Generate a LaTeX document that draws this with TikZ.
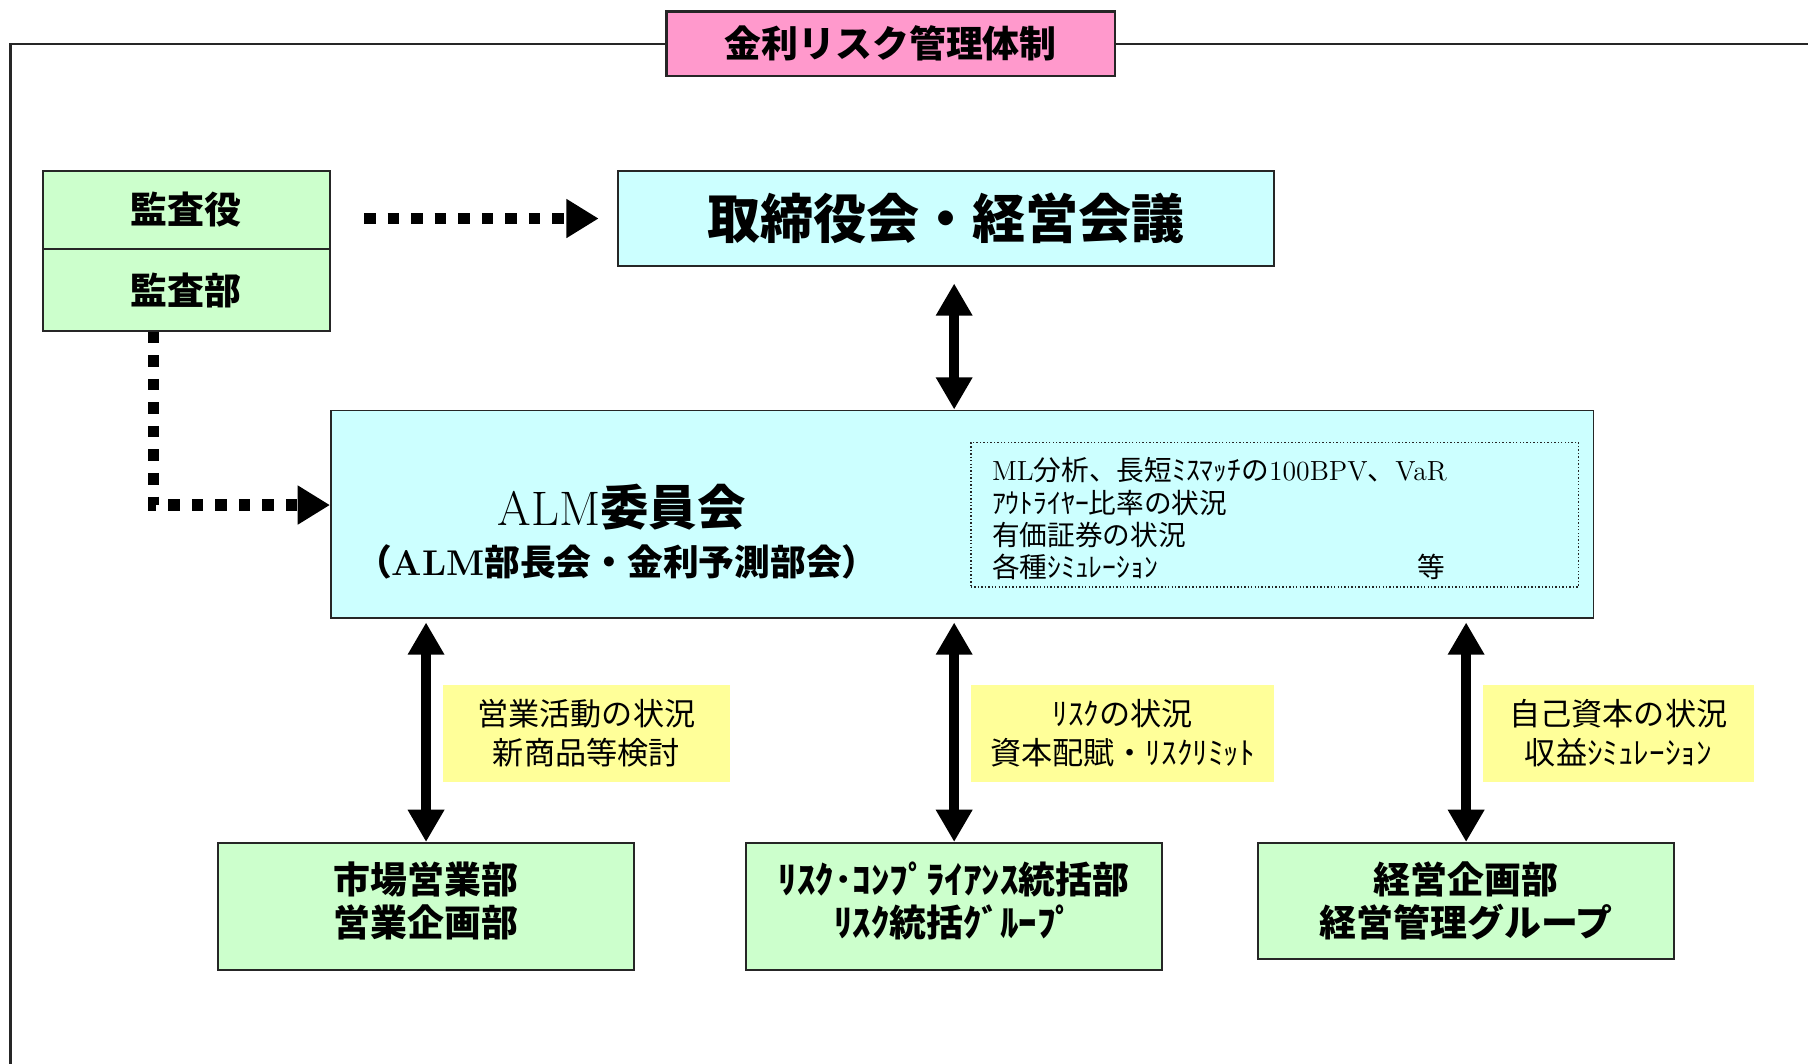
\documentclass[tikz,border=0pt]{standalone}
\usepackage{fontspec}
\newfontfamily\jp{Noto Sans CJK JP}
\usetikzlibrary{arrows.meta}
\definecolor{cyanbox}{HTML}{CCFFFF}
\definecolor{greenbox}{HTML}{CCFFCC}
\definecolor{pinkbox}{HTML}{FF99CC}
\definecolor{yellowbox}{HTML}{FFFF99}
\newcommand{\lowstrut}{\rule[-6pt]{0pt}{0pt}}
\begin{document}
\begin{tikzpicture}[x=0.5pt,y=-0.5pt,
  box/.style={draw=black!85, line width=0.8pt, inner sep=0pt, align=center},
  gbox/.style={box, fill=greenbox, font=\jp\bfseries\fontsize{16}{18.5}\selectfont},
  ybox/.style={fill=yellowbox, minimum height=42pt, inner sep=0pt, align=center, font=\jp\fontsize{13.5}{17}\selectfont},
  frame/.style={line width=1pt, draw=black!85},
  dbl/.style={line width=4.2pt, {Triangle[width=15pt,length=14pt]}-{Triangle[width=15pt,length=14pt]}},
  dotarr/.style={line width=5pt, dash pattern=on 5pt off 5.2pt, -{Triangle[width=16pt,length=14pt]}}
]
\useasboundingbox (0,0) rectangle (1568,922);

% title and frame
\node[box, fill=pinkbox, line width=1.2pt, minimum width=194.5pt, minimum height=28pt,
      font=\jp\bfseries\fontsize{16}{18}\selectfont] (title) at (772.5,38) {金利リスク管理体制};
\draw[frame] (title.west) -| (9,930);
\draw[frame] (title.east) -- (1575,38);

% audit boxes
\node[gbox, minimum width=124.5pt, minimum height=34pt] (aud1) at (161.5,182) {監査役};
\node[gbox, minimum width=124.5pt, minimum height=35.5pt] (aud2) at (161.5,251.5) {監査部};

% board
\node[box, fill=cyanbox, minimum width=284.5pt, minimum height=41.5pt,
      font=\jp\bfseries\fontsize{23}{26}\selectfont] (board) at (820.5,189.5) {取締役会・経営会議};

% ALM committee
\node[box, fill=cyanbox, minimum width=547.5pt, minimum height=90pt] (alm) at (834.5,446) {};
\node[font=\fontsize{21}{24}\selectfont, inner sep=0pt] (almt) at (539,440) {ALM{\jp\bfseries 委員会}};
\node[font=\bfseries\fontsize{15.5}{18}\selectfont, inner sep=0pt] (almsub) at (535,487) {{\jp （}ALM{\jp 部長会・金利予測部会）}};

\node[draw=black!85, line width=0.6pt, dash pattern=on 0.6pt off 0.9pt, minimum width=263.5pt,
      minimum height=62.5pt, inner sep=0pt] (inner) at (1105.5,446.5) {};
\node[anchor=west, align=left, inner sep=0pt, font=\jp\fontsize{12}{14}\selectfont] (innert) at (860,450)
  {{\rmfamily ML}分析、長短ﾐｽﾏｯﾁの{\rmfamily 100BPV}、{\rmfamily VaR}\\
   ｱｳﾄﾗｲﾔｰ比率の状況\\
   有価証券の状況\\
   各種ｼﾐｭﾚｰｼｮﾝ};
\node[inner sep=0pt, font=\jp\fontsize{12}{14}\selectfont] (etc) at (1241,492) {等};

% yellow notes
\node[ybox, minimum width=124.5pt] (y1) at (508.5,636) {営業活動の状況\\新商品等検討};
\node[ybox, minimum width=131.5pt] (y2) at (973.5,636) {ﾘｽｸの状況\\資本配賦・ﾘｽｸﾘﾐｯﾄ};
\node[ybox, minimum width=117.5pt] (y3) at (1403.5,636) {自己資本の状況\\収益ｼﾐｭﾚｰｼｮﾝ};

% bottom boxes
\node[gbox, minimum width=180.5pt, minimum height=55pt] (b1) at (369.5,786) {市場営業部\\営業企画部\lowstrut};
\node[gbox, minimum width=180.5pt, minimum height=55pt] (b2) at (827.5,786) {ﾘｽｸ･ｺﾝﾌﾟﾗｲｱﾝｽ統括部\\ﾘｽｸ統括ｸﾞﾙｰﾌﾟ\lowstrut};
\node[gbox, minimum width=180.5pt, minimum height=50.5pt] (b3) at (1271.5,781.5) {経営企画部\\経営管理グループ};

% connectors
\draw[dbl, shorten <=7pt] (board.south -| b2.north) -- (alm.north -| b2.north);
\draw[dbl, shorten <=1.5pt] (alm.south -| b1.north) -- (b1.north);
\draw[dbl, shorten <=1.5pt] (alm.south -| b2.north) -- (b2.north);
\draw[dbl, shorten <=1.5pt] (alm.south -| b3.north) -- (b3.north);

\draw[dotarr, shorten <=14.5pt, shorten >=8pt] (aud1.east |- board.west) -- (board.west);
\coordinate (corner) at (133,438);
\draw[dotarr] (aud2.south -| corner) -- (corner) -- (corner -| alm.west);
\end{tikzpicture}
\end{document}
